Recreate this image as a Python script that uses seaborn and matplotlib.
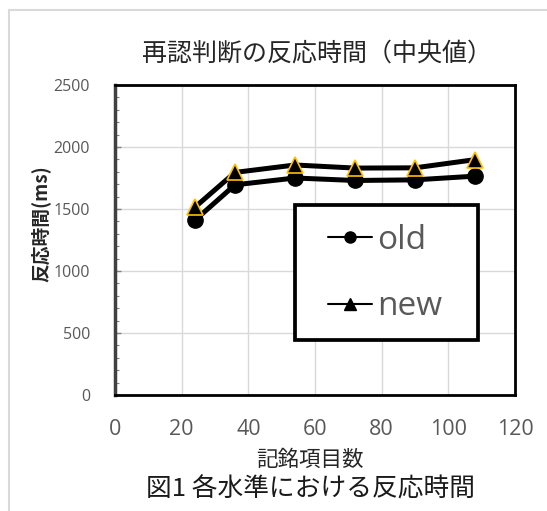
import matplotlib
matplotlib.use('Agg')
import matplotlib.pyplot as plt
import matplotlib.patches as mpatches
import seaborn as sns
import pandas as pd
from matplotlib.lines import Line2D
from matplotlib.ticker import MultipleLocator

# ---- data ----
items = [24, 36, 54, 72, 90, 108]
old_rt = [1410, 1695, 1750, 1730, 1735, 1765]
new_rt = [1515, 1795, 1855, 1830, 1832, 1898]
series_names = ['old', 'new']
x_ticks = [0, 20, 40, 60, 80, 100, 120]
y_ticks = [0, 500, 1000, 1500, 2000, 2500]

title = '再認判断の反応時間（中央値）'
xlabel = '記銘項目数'
ylabel = '反応時間(ms)'
caption = '図1 各水準における反応時間'

sns.set_theme(style='white')
plt.rcParams['font.family'] = ['Noto Sans CJK JP', 'DejaVu Sans']

W, H = 547, 511
fig = plt.figure(figsize=(W / 100, H / 100), dpi=100)
ax = fig.add_axes([115 / W, 1 - 395 / H, 400 / W, 310 / H])

sns.lineplot(x=items, y=old_rt, color='black', marker='o', markersize=11,
             markeredgecolor='black', markeredgewidth=1, linewidth=3.6, ax=ax, zorder=4)
sns.lineplot(x=items, y=new_rt, color='black', marker='^', markersize=12,
             markeredgecolor='#FFC000', markeredgewidth=1.2, linewidth=3.6, ax=ax, zorder=5)

ax.set_xlim(0, 120)
ax.set_ylim(0, 2500)
ax.set_xticks(x_ticks)
ax.set_yticks(y_ticks)
ax.yaxis.set_minor_locator(MultipleLocator(100))
ax.grid(True, which='major', color='#d9d9d9', linewidth=1)
ax.set_axisbelow(True)
ax.tick_params(axis='x', length=0, pad=17, labelsize=15.5, labelcolor='#595959')
ax.tick_params(axis='y', which='major', direction='in', length=4, width=1, color='#808080',
               pad=18, labelsize=11.5, labelcolor='#595959', left=True)
ax.tick_params(axis='y', which='minor', direction='in', length=3, width=0.8, color='#808080', left=True)
for lab in ax.get_xticklabels() + ax.get_yticklabels():
    lab.set_fontfamily(['Open Sans', 'DejaVu Sans'])
ax.set_xlabel('')
ax.set_ylabel('')

for side in ['top', 'right', 'bottom']:
    ax.spines[side].set_color('black')
    ax.spines[side].set_linewidth(2)
ax.spines['left'].set_color('#404040')
ax.spines['left'].set_linewidth(2.5)

# legend box
rect = mpatches.Rectangle((295 / W, 1 - 340 / H), 183 / W, 135 / H, transform=fig.transFigure,
                          facecolor='white', edgecolor='black', linewidth=2.7, zorder=6)
fig.add_artist(rect)
handles = [Line2D([], [], color='black', lw=1.5, marker='o', markersize=8),
           Line2D([], [], color='black', lw=1.5, marker='^', markersize=8)]
leg = fig.legend(handles, series_names, loc='upper left', bbox_to_anchor=(328 / W, 1 - 224 / H),
                 frameon=False, prop={'family': ['Open Sans', 'DejaVu Sans'], 'size': 24},
                 labelcolor='#595959', handlelength=1.32, handletextpad=0.15,
                 labelspacing=1.0, borderpad=0, borderaxespad=0)
leg.set_zorder(7)

# texts
fig.text(317 / W, 1 - 54 / H, title, fontsize=18, color='#262626', ha='center', va='center')
fig.text(41 / W, 1 - 224 / H, ylabel, fontsize=13.5, fontweight='bold', color='#262626',
         rotation=90, ha='center', va='center')
fig.text(310 / W, 1 - 460 / H, xlabel, fontsize=15.5, color='#262626', ha='center', va='center')
fig.text(311 / W, 1 - 489 / H, caption, fontsize=18.5, color='#1a1a1a', ha='center', va='center')

# outer frame (left and top)
fig.add_artist(Line2D([9 / W, 9 / W], [0, 1 - 10 / H], transform=fig.transFigure, color='#d9d9d9', lw=1.5))
fig.add_artist(Line2D([9 / W, 1], [1 - 10 / H, 1 - 10 / H], transform=fig.transFigure, color='#d9d9d9', lw=1.5))

fig.savefig('out.png', dpi=100)
